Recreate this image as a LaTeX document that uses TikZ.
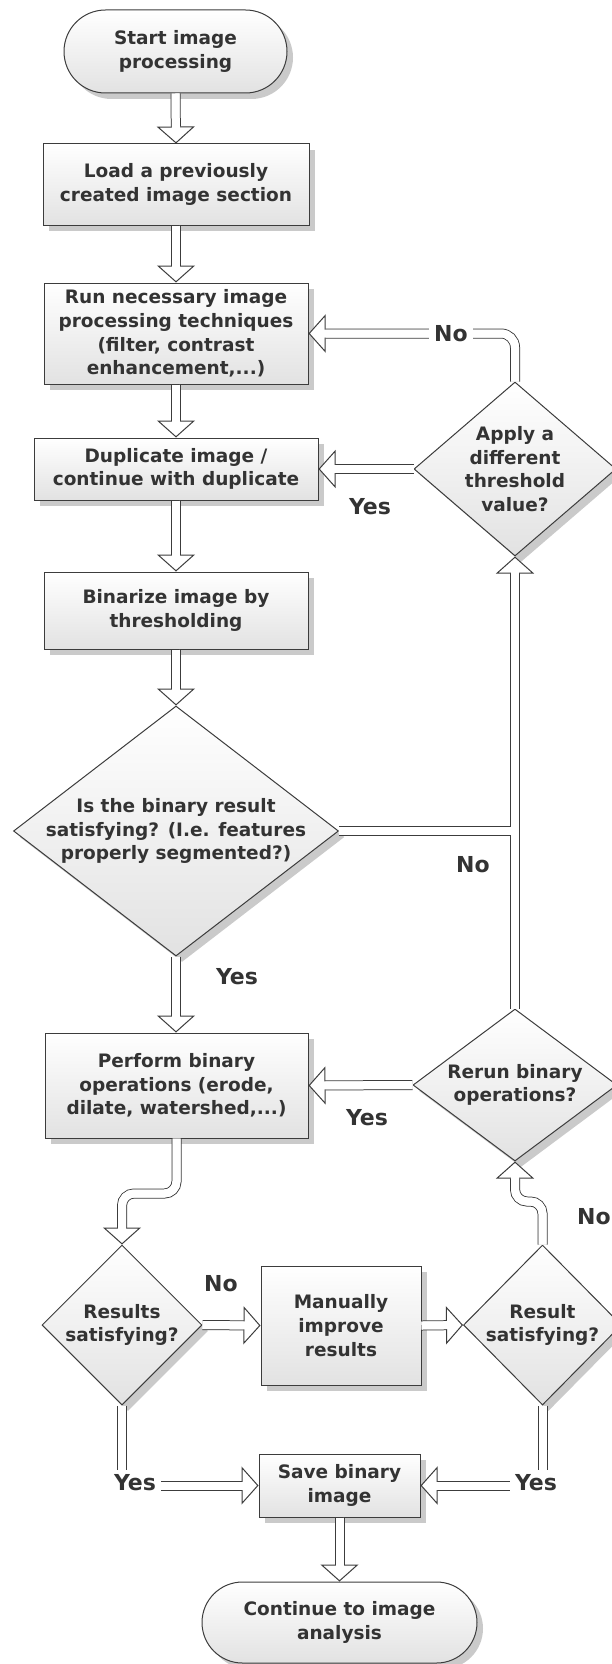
\documentclass[tikz,border=0pt]{standalone}
\usepackage{fontspec}
\setmainfont{DejaVu Sans}
\usetikzlibrary{arrows.meta,shapes.geometric,shapes.misc,shadows}

\definecolor{dk}{HTML}{3C3C3C}
\definecolor{txt}{HTML}{333333}
\definecolor{shd}{HTML}{CACACA}
\definecolor{lo}{HTML}{E2E2E2}

\begin{document}
\begin{tikzpicture}[x=1pt, y=-1pt,
    every node/.style={font=\bfseries\fontsize{18.5}{23.7}\selectfont, text=txt, align=center},
    base/.style={draw=dk, line width=1pt, top color=white, bottom color=lo, inner sep=0pt,
      drop shadow={shadow xshift=6pt, shadow yshift=-6pt, fill=shd, opacity=1}},
    box/.style={base, rectangle},
    term/.style={base, rounded rectangle},
    decision/.style={base, diamond},
    pipe/.style={draw=dk, line width=1pt, double=white, double distance=8pt},
    flow/.style={pipe, -{Triangle[open, fill=white, line width=1pt, length=17pt, width=38pt]},
      postaction={draw=white, line width=8pt, -, shorten >=15pt}},
    lbl/.style={font=\bfseries\fontsize{22}{26}\selectfont, inner sep=5pt}]
    \useasboundingbox (0,0) rectangle (612,1664);
    % main column
    \node[term, minimum width=223pt, minimum height=83pt] (start) at (175.5,51.5) {Start image\\processing};
    \node[box, minimum width=266pt, minimum height=81pt] (load) at (176,184.5) {Load a previously\\created image section};
    \node[box, minimum width=264pt, minimum height=101pt] (run) at (176,333.5) {Run necessary image\\processing techniques\\(filter, contrast\\enhancement,...)};
    \node[box, minimum width=284pt, minimum height=62pt] (dup) at (176,469) {Duplicate image /\\continue with duplicate};
    \node[box, minimum width=264pt, minimum height=77pt] (bin) at (176,610.5) {Binarize image by\\thresholding};
    \node[decision, minimum width=325pt, minimum height=250pt,
      label={center:Is the binary result\\satisfying? (I.e. features\\properly segmented?)}] (isok) at (176,831) {};
    \node[box, minimum width=263pt, minimum height=105pt] (perf) at (176.5,1085.5) {Perform binary\\operations (erode,\\dilate, watershed,...)};
    % bottom row
    \node[decision, minimum width=160pt, minimum height=160pt, label={center:Results\\satisfying?}] (resl) at (122,1325) {};
    \node[box, minimum width=160pt, minimum height=119pt] (manual) at (341,1325.5) {Manually\\improve\\results};
    \node[decision, minimum width=158pt, minimum height=160pt, label={center:Result\\satisfying?}] (resr) at (542.5,1325) {};
    \node[box, minimum width=161pt, minimum height=63pt] (save) at (339.5,1485.5) {Save binary\\image};
    \node[term, minimum width=275pt, minimum height=81pt] (cont) at (339.5,1622.5) {Continue to image\\analysis};
    % loop decisions
    \node[decision, minimum width=202pt, minimum height=174pt, label={center:Apply a\\different\\threshold\\value?}] (applyd) at (515,469) {};
    \node[decision, minimum width=204pt, minimum height=152pt, label={center:Rerun binary\\operations?}] (rerun) at (515,1085) {};
    % straight flow
    \draw[flow] (start.south) -- (load.north);
    \draw[flow] (load.south) -- (run.north);
    \draw[flow] (run.south) -- (dup.north);
    \draw[flow] (dup.south) -- (bin.north);
    \draw[flow] (bin.south) -- (isok.north);
    \draw[flow] (isok.south) -- (isok.south |- perf.north);
    \node[lbl] (yes2) at (237,977) {Yes};
    % threshold loop
    \draw[flow] (applyd.west) -- (dup.east);
    \node[lbl] (yes1) at (370,507) {Yes};
    \draw[flow, rounded corners=14pt] (applyd.north) |- (run.east);
    \node[lbl, fill=white] (no1) at (451,333.5) {No};
    \draw[flow] (rerun.north) -- (applyd.south);
    \coordinate (jn) at ([xshift=-4pt]applyd.south |- isok.east);
    \draw[pipe] (isok.east) -- (jn);
    \node[lbl] (no2) at (473,865) {No};
    % binary operations loop
    \draw[flow] (rerun.west) -- (perf.east);
    \node[lbl] (yes3) at (367,1118) {Yes};
    \draw[flow, rounded corners=12pt] (perf.south) -- ++(0,55) -| (resl.north);
    \draw[flow, rounded corners=12pt] (resr.north) -- ++(0,-43) -| (rerun.south);
    \node[lbl] (no3) at (594,1217) {No};
    \draw[flow] (resl.east) -- (manual.west);
    \node[lbl] (no4) at (221,1284) {No};
    \draw[flow] (manual.east) -- (resr.west);
    % saving
    \draw[flow] (resl.south) |- (save.west);
    \node[lbl, fill=white] (yes4) at (135,1483) {Yes};
    \draw[flow] (resr.south) |- (save.east);
    \node[lbl, fill=white] (yes5) at (536,1483) {Yes};
    \draw[flow] (save.south) -- (cont.north);
\end{tikzpicture}
\end{document}
